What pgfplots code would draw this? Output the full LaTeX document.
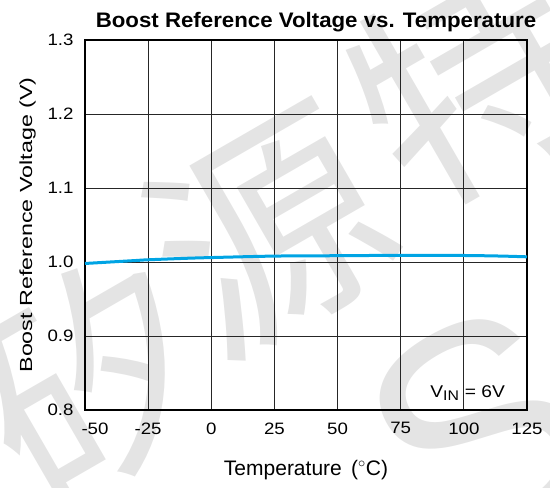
\documentclass[border=0pt]{standalone}
\usepackage{fontspec}
\setmainfont{Liberation Sans}
\newfontfamily\tickfont[FakeStretch=1.13]{Liberation Sans}
\newfontfamily\ylabfont[FakeStretch=1.33]{Liberation Sans}
\newfontfamily\titlefont[FakeStretch=1.06]{Liberation Sans}
\newfontfamily\cjk{Noto Sans CJK SC}
\usepackage{pgfplots}
\pgfplotsset{compat=1.18}
\definecolor{curve}{RGB}{0,164,228}
\definecolor{wm}{RGB}{228,228,228}
\begin{document}
\begin{tikzpicture}[x=1pt,y=1pt]
\useasboundingbox (-85,-78) rectangle (465,410);
\begin{scope}
\clip (-85,-78) rectangle (465,410);
\node[wm, rotate=30, font=\fontsize{230}{230}\cjk] at (5,30) {矽};
\node[wm, rotate=30, font=\fontsize{230}{230}\cjk] at (185,180) {源};
\node[wm, rotate=30, font=\fontsize{230}{230}\cjk] at (385,330) {特};
\node[wm, rotate=30, font=\fontsize{300}{300}\selectfont] at (395,-20) {S};
\end{scope}
\begin{axis}[
  at={(0,0)}, anchor=south west,
  scale only axis, width=442pt, height=370pt,
  xmin=-50, xmax=125, ymin=0.8, ymax=1.3,
  xtick={-50,-25,0,25,50,75,100,125},
  xticklabels={\hspace*{20pt}-50,-25,0,25,50,75,100,125},
  ytick={0.8,0.9,1.0,1.1,1.2,1.3},
  yticklabels={0.8,0.9,1.0,1.1,1.2,1.3},
  /pgf/number format/assume math mode=true,
  major tick length=0pt,
  grid=major,
  major grid style={black!85, line width=0.9pt},
  axis line style={black, line width=1.3pt},
  ticklabel style={font=\fontsize{16.5}{18}\tickfont},
  xticklabel style={yshift=-9pt},
  yticklabel style={xshift=-8pt},
  title={\bfseries Boost Reference Voltage vs. Temperature},
  title style={font=\fontsize{21}{24}\titlefont, at={(0.5,1)}, yshift=-1pt, xshift=10pt},
  xlabel={Temperature \,($^{\circ}$C)},
  ylabel={Boost Reference Voltage (V)},
  xlabel style={font=\fontsize{21}{23}\selectfont, yshift=-19pt},
  ylabel style={font=\fontsize{17.5}{20}\ylabfont, yshift=5pt},
  clip=true,
]
\addplot[curve, line width=3pt, smooth] coordinates {
(-50,0.998) (-45,0.999) (-40,1.000) (-30,1.002) (-25,1.003) (-10,1.005) (0,1.006)
(25,1.008) (50,1.0085) (75,1.009) (100,1.0088) (115,1.008) (125,1.007)};
\node[font=\fontsize{17}{19}\tickfont] at (axis cs:101.5,0.823) {V\textsubscript{\fontsize{14}{16}\tickfont IN} = 6V};
\end{axis}
\end{tikzpicture}
\end{document}
